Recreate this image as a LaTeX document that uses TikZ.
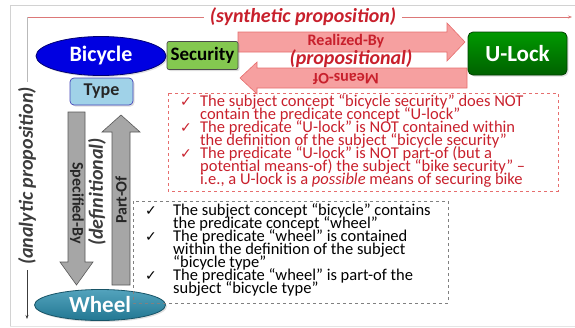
\documentclass[tikz,border=0pt]{standalone}
\usepackage{fontspec}
\setmainfont{Carlito}
\newfontfamily\dejavu{DejaVu Sans}
\usetikzlibrary{shapes.geometric,arrows.meta,shadows}
\definecolor{redtxt}{RGB}{200,32,44}
\definecolor{pinkfill}{RGB}{246,160,160}
\definecolor{pinkdraw}{RGB}{230,110,110}
\definecolor{synline}{RGB}{220,120,120}
\definecolor{bikeblue}{RGB}{0,0,225}
\definecolor{secgreen}{RGB}{132,200,80}
\definecolor{typeblue}{RGB}{160,210,232}
\definecolor{wheelteal}{RGB}{40,140,172}
\definecolor{arrowgray}{RGB}{166,166,166}
\definecolor{labelgray}{RGB}{60,60,60}
\newcommand\redchk{\makebox[20pt][l]{\dejavu\fontsize{14}{13}\selectfont ✓}}
\newcommand\graychk{\makebox[28pt][l]{\dejavu\fontsize{14}{13}\selectfont ✓}}
\newcommand\redind{\hspace*{20pt}}
\newcommand\grayind{\hspace*{28pt}}
\newcommand\tightlines{\lineskiplimit=-100pt\relax\lineskip=0pt\relax}
\tikzset{
  ital/.style={font=\fontsize{20}{20}\selectfont\bfseries\itshape, inner sep=0pt},
  concept/.style={font=\fontsize{22}{22}\selectfont\bfseries, text=white, inner sep=0pt},
  bigarrow/.style={fill=pinkfill, draw=pinkdraw, line width=0.6pt},
  grayarrow/.style={fill=arrowgray, draw=gray!70!black, line width=0.6pt},
  arrowlbl/.style={font=\fontsize{16}{16}\selectfont\bfseries, inner sep=0pt},
  listtxt/.style={font=\fontsize{16.5}{13}\selectfont\tightlines, align=left, inner sep=0pt, anchor=north west},
  softshadow/.style={drop shadow={opacity=0.25, shadow xshift=1.5pt, shadow yshift=-1.5pt}},
}
\begin{document}
\begin{tikzpicture}[x=1pt,y=-1pt]
\useasboundingbox (0,0) rectangle (575,327);
% frame
\draw[gray!35, line width=0.8pt] (10,327) -- (10,5) -- (575,5);
\draw[gray!20, line width=0.6pt] (10,326) -- (575,326);
% synthetic / analytic guides
\node[ital, text=redtxt] (syn) at (303,17) {(synthetic proposition)};
\node[ital, text=labelgray, rotate=90] (ana) at (27,176) {(analytic proposition)};
\coordinate (sL) at (27,17);
\coordinate (sR) at (572,17);
\coordinate (aB) at (27,319);
\draw[synline, line width=0.7pt] ([xshift=-6pt]syn.west) -- (sL);
\draw[gray!55, line width=0.7pt] (sL) -- ([yshift=5pt]ana.east);
\draw[synline, line width=0.7pt, -{Stealth[length=4pt,width=3pt]}] ([xshift=6pt]syn.east) -- (sR);
\draw[labelgray, line width=0.7pt, -{Stealth[length=4pt,width=3pt]}] ([yshift=-5pt]ana.west) -- (aB);
% pink block arrows
\draw[bigarrow] (238,32) -- (447,32) -- (447,23) -- (465,42) -- (447,61) -- (447,52) -- (238,52) -- cycle;
\draw[bigarrow] (467,68) -- (257,68) -- (257,62) -- (240,78) -- (257,94) -- (257,88) -- (467,88) -- cycle;
\node[arrowlbl, text=redtxt] (rb) at (346,41) {Realized-By};
\node[arrowlbl, text=redtxt, rotate=180] (mo) at (346,79) {Means-Of};
\node[ital, text=redtxt] (prop) at (351,59) {(propositional)};
% gray block arrows
\draw[grayarrow] (68,112) -- (85,112) -- (85,262) -- (93,262) -- (76.5,285) -- (60,262) -- (68,262) -- cycle;
\draw[grayarrow] (112,285) -- (130,285) -- (130,132) -- (140,132) -- (121,115) -- (102,132) -- (112,132) -- cycle;
\node[arrowlbl, rotate=-90, text=black!85] (spec) at (77,203) {Specified-By};
\node[arrowlbl, rotate=90, text=black!85] (part) at (121,200) {Part-Of};
\node[ital, rotate=90, text=labelgray] (defn) at (97,192) {(definitional)};
% concept nodes
\node[ellipse, fill=bikeblue, draw=blue!45!black, line width=0.8pt, minimum width=130pt, minimum height=39pt, concept, softshadow] (bike) at (101,56) {Bicycle};
\node[rectangle, rounded corners=2pt, fill=secgreen, draw=black!70, line width=0.7pt, minimum width=71pt, minimum height=28pt, font=\fontsize{19}{19}\selectfont\bfseries, inner sep=0pt, softshadow] (sec) at (202.5,55.5) {Security};
\node[rectangle, rounded corners=4pt, fill=typeblue, draw=blue!45!gray, line width=0.7pt, minimum width=63pt, minimum height=27pt, font=\fontsize{18}{18}\selectfont\bfseries, text=black!85, inner sep=0pt, softshadow] (type) at (101.5,91.5) {Type};
\node[rectangle, rounded corners=5pt, top color=green!60!black, bottom color=green!38!black, draw=green!25!black, line width=0.8pt, minimum width=99pt, minimum height=43pt, concept, font=\fontsize{23}{23}\selectfont\bfseries, softshadow] (ulock) at (517.5,53.5) {U-Lock};
\node[ellipse, top color=wheelteal!80!white, bottom color=wheelteal!85!black, draw=wheelteal!60!black, line width=0.8pt, minimum width=131pt, minimum height=31pt, concept, font=\fontsize{23}{23}\selectfont\bfseries, softshadow] (wheel) at (100,305) {Wheel};
% dashed boxes
\draw[pinkdraw, dashed, line width=0.7pt] (168,93) rectangle (558,191);
\draw[gray, dashed, line width=0.7pt] (133,201) rectangle (448,303);
\node[listtxt, text=redtxt] (rtxt) at (180,94) {\redchk The subject concept “bicycle security” does NOT\\
\redind contain the predicate concept “U-lock”\\
\redchk The predicate “U-lock” is NOT contained within\\
\redind the definition of the subject “bicycle security”\\
\redchk The predicate “U-lock” is NOT part-of (but a\\
\redind potential means-of) the subject “bike security” –\\
\redind i.e., a U-lock is a \emph{possible} means of securing bike};
\node[listtxt, text=black] (gtxt) at (145,203) {\graychk The subject concept “bicycle” contains\\
\grayind the predicate concept “wheel”\\
\graychk The predicate “wheel” is contained\\
\grayind within the definition of the subject\\
\grayind “bicycle type”\\
\graychk The predicate “wheel” is part-of the\\
\grayind subject “bicycle type”};
\end{tikzpicture}
\end{document}
